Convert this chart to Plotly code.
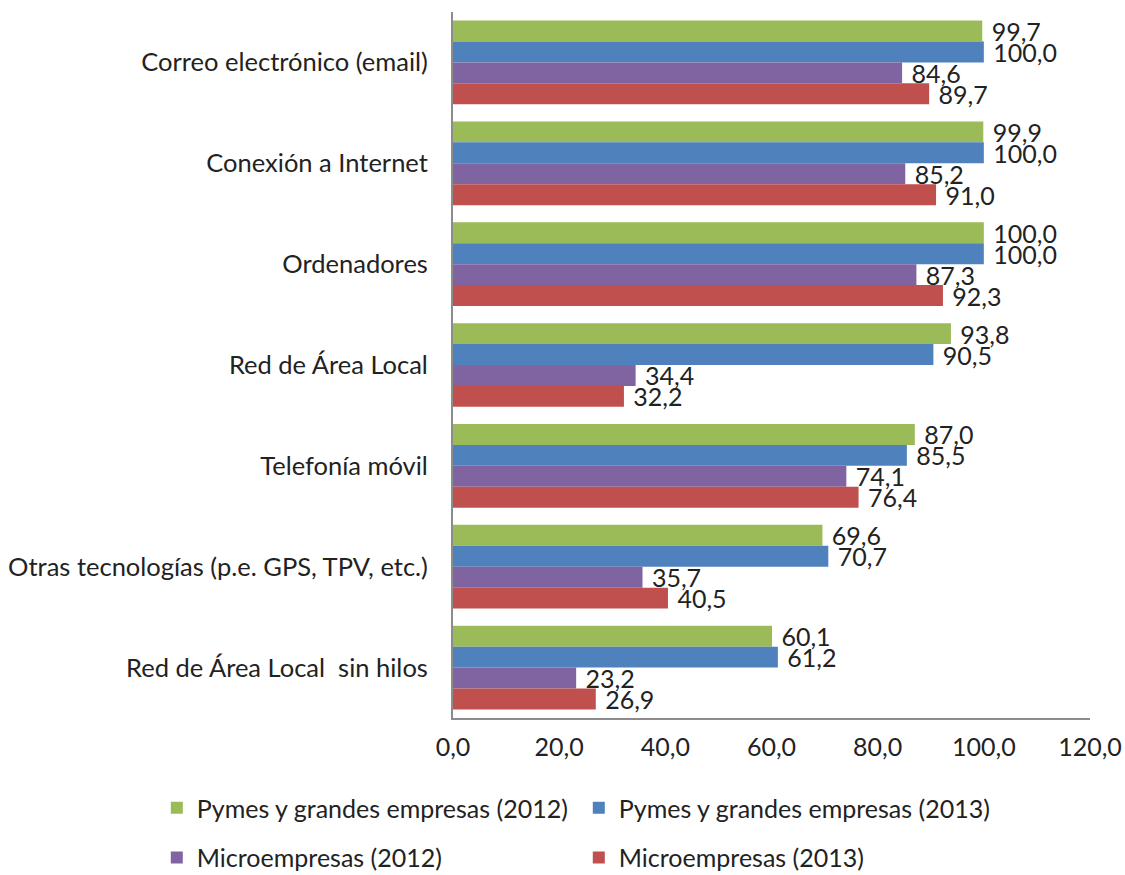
import plotly.graph_objects as go

categories = [
    "Correo electrónico (email)",
    "Conexión a Internet",
    "Ordenadores",
    "Red de Área Local",
    "Telefonía móvil",
    "Otras tecnologías (p.e. GPS, TPV, etc.)",
    "Red de Área Local  sin hilos",
]
pymes_2012 = [99.7, 99.9, 100.0, 93.8, 87.0, 69.6, 60.1]
pymes_2013 = [100.0, 100.0, 100.0, 90.5, 85.5, 70.7, 61.2]
micro_2012 = [84.6, 85.2, 87.3, 34.4, 74.1, 35.7, 23.2]
micro_2013 = [89.7, 91.0, 92.3, 32.2, 76.4, 40.5, 26.9]

series = [
    ("Pymes y grandes empresas (2012)", pymes_2012, "#9BBB59", "legend"),
    ("Pymes y grandes empresas (2013)", pymes_2013, "#4F81BD", "legend"),
    ("Microempresas (2012)", micro_2012, "#8064A2", "legend2"),
    ("Microempresas (2013)", micro_2013, "#C0504D", "legend2"),
]

FONT = "Lato"
TXT = "#222222"
fig = go.Figure()
for name, vals, color, leg in series:
    fig.add_trace(go.Bar(
        y=categories, x=vals, name=name, orientation="h",
        marker=dict(color=color, line=dict(width=0)),
        texttemplate=" %{x:.1f}", textposition="outside",
        textfont=dict(family=FONT, size=25, color=TXT),
        constraintext="none", cliponaxis=False, legend=leg,
    ))

leg_common = dict(
    orientation="h", xanchor="left", yanchor="middle",
    font=dict(family=FONT, size=25, color=TXT),
    entrywidth=377, entrywidthmode="pixels", bgcolor="rgba(0,0,0,0)",
)

fig.update_layout(
    width=1125, height=875,
    margin=dict(l=453, r=35, t=12, b=157, autoexpand=False),
    paper_bgcolor="white", plot_bgcolor="white",
    barmode="group", bargap=0.17, bargroupgap=0,
    separators=",.",
    font=dict(family=FONT, size=25, color=TXT),
    legend=dict(x=-0.465, y=-0.1275, **leg_common),
    legend2=dict(x=-0.465, y=-0.198, **leg_common),
    xaxis=dict(
        range=[0, 120], dtick=20, tickformat=".1f",
        showgrid=False, zeroline=False,
        showline=True, linecolor="#8c8c8c", linewidth=2,
        ticks="", tickfont=dict(family=FONT, size=25, color=TXT),
        ticklabelstandoff=6,
    ),
    yaxis=dict(
        autorange="reversed", showgrid=False, zeroline=False,
        showline=True, linecolor="#8c8c8c", linewidth=2,
        ticks="", tickfont=dict(family=FONT, size=25.5, color=TXT),
        ticklabelstandoff=18,
    ),
)

fig.write_html("out.html")
